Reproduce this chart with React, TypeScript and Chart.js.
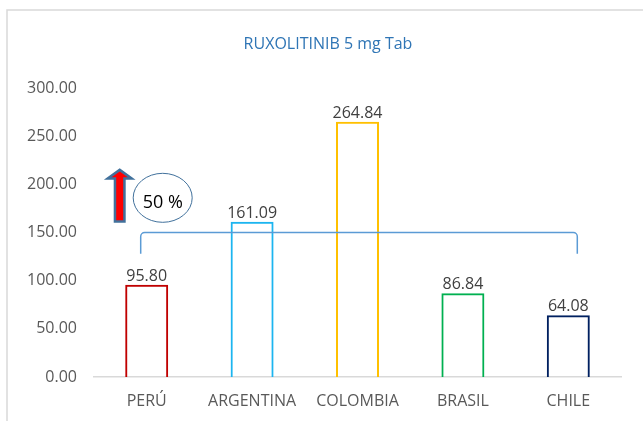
import React, { useEffect, useRef } from 'react';
import { Chart, registerables } from 'chart.js';

Chart.register(...registerables);

const chartTitle = 'RUXOLITINIB 5 mg Tab';
const categories = ['PERÚ', 'ARGENTINA', 'COLOMBIA', 'BRASIL', 'CHILE'];
const prices = [95.8, 161.09, 264.84, 86.84, 64.08];
const barColors = ['#c00000', '#1cb5f0', '#ffc000', '#00b050', '#002060'];
const yMin = 0;
const yMax = 300;
const yStep = 50;
const increaseLabel = '50 %';
const bracketLevel = 150;
const bracketEndLevel = 128;

const FONT = '"Open Sans", "Noto Sans", sans-serif';

const framePlugin = {
  id: 'frame',
  beforeDraw(chart: any) {
    const { ctx, width, height } = chart;
    ctx.save();
    ctx.fillStyle = '#ffffff';
    ctx.fillRect(0, 0, width, height);
    ctx.strokeStyle = '#d9d9d9';
    ctx.lineWidth = 1.5;
    ctx.beginPath();
    ctx.moveTo(7, height);
    ctx.lineTo(7, 10);
    ctx.lineTo(width, 10);
    ctx.stroke();
    // chart title, centred on the chart frame
    ctx.font = `16px ${FONT}`;
    ctx.fillStyle = '#2f75b5';
    ctx.textAlign = 'center';
    ctx.textBaseline = 'middle';
    ctx.fillText(chartTitle, 328, 44);
    ctx.restore();
  },
};

const valueLabelPlugin = {
  id: 'valueLabels',
  afterDatasetsDraw(chart: any) {
    const { ctx } = chart;
    const meta = chart.getDatasetMeta(0);
    ctx.save();
    ctx.font = `16px ${FONT}`;
    ctx.fillStyle = '#404040';
    ctx.textAlign = 'center';
    ctx.textBaseline = 'alphabetic';
    meta.data.forEach((bar: any, i: number) => {
      ctx.fillText(prices[i].toFixed(2), bar.x, bar.y - 4);
    });
    ctx.restore();
  },
};

const annotationPlugin = {
  id: 'annotations',
  afterDraw(chart: any) {
    const { ctx } = chart;
    const xs = chart.scales.x;
    const ys = chart.scales.y;
    const x0 = xs.getPixelForValue(0);
    const x4 = xs.getPixelForValue(categories.length - 1);

    // bracket
    const by = ys.getPixelForValue(bracketLevel);
    const be = ys.getPixelForValue(bracketEndLevel);
    const l = x0 - 6;
    const r = x4 + 9;
    ctx.save();
    ctx.strokeStyle = '#5b9bd5';
    ctx.lineWidth = 1.5;
    ctx.beginPath();
    ctx.moveTo(l, be);
    ctx.arcTo(l, by, l + 4, by, 4);
    ctx.arcTo(r, by, r, by + 4, 4);
    ctx.lineTo(r, be);
    ctx.stroke();

    // arrow
    const ax = x0 - 27;
    const tip = ys.getPixelForValue(215);
    const headBase = ys.getPixelForValue(206);
    const bottom = ys.getPixelForValue(161.5);
    const hw = 12;
    const sw = 4.75;
    ctx.beginPath();
    ctx.moveTo(ax, tip);
    ctx.lineTo(ax + hw, headBase);
    ctx.lineTo(ax + sw, headBase);
    ctx.lineTo(ax + sw, bottom);
    ctx.lineTo(ax - sw, bottom);
    ctx.lineTo(ax - sw, headBase);
    ctx.lineTo(ax - hw, headBase);
    ctx.closePath();
    ctx.fillStyle = '#ff0000';
    ctx.fill();
    ctx.strokeStyle = '#41719c';
    ctx.lineWidth = 2.5;
    ctx.lineJoin = 'miter';
    ctx.stroke();

    // ellipse with text
    const cx = x0 + 16;
    const cy = ys.getPixelForValue(186);
    ctx.beginPath();
    ctx.ellipse(cx, cy, 29.5, 24.5, 0, 0, Math.PI * 2);
    ctx.strokeStyle = '#41719c';
    ctx.lineWidth = 1;
    ctx.stroke();
    ctx.font = `18px ${FONT}`;
    ctx.fillStyle = '#000000';
    ctx.textAlign = 'center';
    ctx.textBaseline = 'middle';
    ctx.fillText(increaseLabel, cx, cy + 5);
    ctx.restore();
  },
};

export default function App() {
  const ref = useRef<HTMLCanvasElement | null>(null);

  useEffect(() => {
    document.body.style.margin = '0';
    if (!ref.current) return;
    const chart = new Chart(ref.current, {
      type: 'bar',
      data: {
        labels: categories,
        datasets: [
          {
            data: prices,
            backgroundColor: 'rgba(255,255,255,0)',
            borderColor: barColors,
            borderWidth: 2,
            borderSkipped: 'bottom',
            barPercentage: 0.408,
            categoryPercentage: 1,
          },
        ],
      },
      options: {
        animation: false,
        responsive: false,
        layout: { padding: { left: 10, right: 22, top: 88, bottom: 10 } },
        plugins: {
          legend: { display: false },
          tooltip: { enabled: false },
          title: { display: false },
        },
        scales: {
          x: {
            grid: { display: false, drawTicks: false },
            border: { display: true, color: '#d9d9d9', width: 1.5 },
            ticks: {
              color: '#595959',
              font: { family: FONT, size: 16 },
              padding: 15,
              maxRotation: 0,
            },
            afterFit: (axis: any) => {
              axis.height = 34;
            },
          },
          y: {
            min: yMin,
            max: yMax,
            grid: { display: false, drawTicks: false },
            border: { display: false },
            ticks: {
              stepSize: yStep,
              color: '#595959',
              font: { family: FONT, size: 16 },
              padding: 17,
              callback: (v: any) => Number(v).toFixed(2),
            },
            afterFit: (axis: any) => {
              axis.width = 84;
            },
          },
        },
      },
      plugins: [framePlugin, valueLabelPlugin, annotationPlugin],
    });
    return () => chart.destroy();
  }, []);

  return (
    <div style={{ position: 'fixed', left: 0, top: 0, width: 643, height: 421 }}>
      <canvas ref={ref} width={643} height={421} />
    </div>
  );
}
